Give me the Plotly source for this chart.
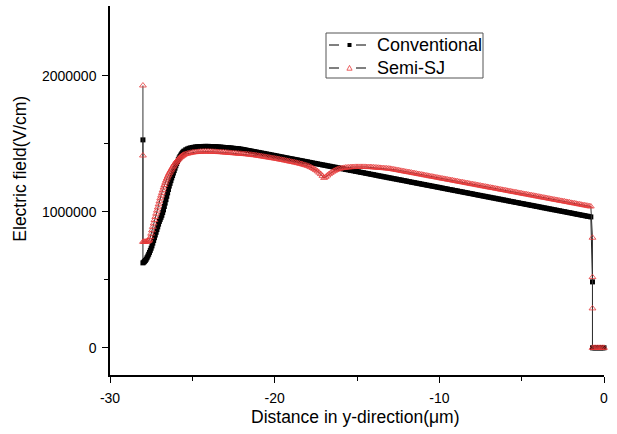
import plotly.graph_objects as go

# Position along y-direction (um): fine grid on the steep rise, then 0.1 um
x_rise = [
    -28.00, -27.95, -27.90, -27.85, -27.80, -27.75, -27.70, -27.65, -27.60, -27.55,
    -27.50, -27.45, -27.40, -27.35, -27.30, -27.25, -27.20, -27.15, -27.10, -27.05,
    -27.00, -26.95, -26.90, -26.85, -26.80, -26.75, -26.70, -26.65, -26.60, -26.55,
    -26.50, -26.45, -26.40, -26.35, -26.30, -26.25, -26.20, -26.15, -26.10, -26.05,
    -26.00, -25.95, -25.90, -25.85, -25.80, -25.75, -25.70, -25.65, -25.60, -25.55,
    -25.50,
]
x_body = [
    -25.4, -25.3, -25.2, -25.1,
    -25.0, -24.9, -24.8, -24.7, -24.6, -24.5, -24.4, -24.3, -24.2, -24.1,
    -24.0, -23.9, -23.8, -23.7, -23.6, -23.5, -23.4, -23.3, -23.2, -23.1,
    -23.0, -22.9, -22.8, -22.7, -22.6, -22.5, -22.4, -22.3, -22.2, -22.1,
    -22.0, -21.9, -21.8, -21.7, -21.6, -21.5, -21.4, -21.3, -21.2, -21.1,
    -21.0, -20.9, -20.8, -20.7, -20.6, -20.5, -20.4, -20.3, -20.2, -20.1,
    -20.0, -19.9, -19.8, -19.7, -19.6, -19.5, -19.4, -19.3, -19.2, -19.1,
    -19.0, -18.9, -18.8, -18.7, -18.6, -18.5, -18.4, -18.3, -18.2, -18.1,
    -18.0, -17.9, -17.8, -17.7, -17.6, -17.5, -17.4, -17.3, -17.2, -17.1,
    -17.0, -16.9, -16.8, -16.7, -16.6, -16.5, -16.4, -16.3, -16.2, -16.1,
    -16.0, -15.9, -15.8, -15.7, -15.6, -15.5, -15.4, -15.3, -15.2, -15.1,
    -15.0, -14.9, -14.8, -14.7, -14.6, -14.5, -14.4, -14.3, -14.2, -14.1,
    -14.0, -13.9, -13.8, -13.7, -13.6, -13.5, -13.4, -13.3, -13.2, -13.1,
    -13.0, -12.9, -12.8, -12.7, -12.6, -12.5, -12.4, -12.3, -12.2, -12.1,
    -12.0, -11.9, -11.8, -11.7, -11.6, -11.5, -11.4, -11.3, -11.2, -11.1,
    -11.0, -10.9, -10.8, -10.7, -10.6, -10.5, -10.4, -10.3, -10.2, -10.1,
    -10.0, -9.9, -9.8, -9.7, -9.6, -9.5, -9.4, -9.3, -9.2, -9.1,
    -9.0, -8.9, -8.8, -8.7, -8.6, -8.5, -8.4, -8.3, -8.2, -8.1,
    -8.0, -7.9, -7.8, -7.7, -7.6, -7.5, -7.4, -7.3, -7.2, -7.1,
    -7.0, -6.9, -6.8, -6.7, -6.6, -6.5, -6.4, -6.3, -6.2, -6.1,
    -6.0, -5.9, -5.8, -5.7, -5.6, -5.5, -5.4, -5.3, -5.2, -5.1,
    -5.0, -4.9, -4.8, -4.7, -4.6, -4.5, -4.4, -4.3, -4.2, -4.1,
    -4.0, -3.9, -3.8, -3.7, -3.6, -3.5, -3.4, -3.3, -3.2, -3.1,
    -3.0, -2.9, -2.8, -2.7, -2.6, -2.5, -2.4, -2.3, -2.2, -2.1,
    -2.0, -1.9, -1.8, -1.7, -1.6, -1.5, -1.4, -1.3, -1.2, -1.1,
    -1.0, -0.9, -0.8,
]

# Electric field (MV/cm), conventional device
conv_rise = [
    0.625, 0.630, 0.636, 0.643, 0.652, 0.663, 0.675, 0.688, 0.702, 0.717,
    0.733, 0.750, 0.770, 0.790, 0.810, 0.830, 0.850, 0.870, 0.890, 0.910,
    0.930, 0.945, 0.960, 0.975, 0.995, 1.015, 1.040, 1.065, 1.090, 1.115,
    1.140, 1.165, 1.190, 1.210, 1.230, 1.250, 1.268, 1.286, 1.304, 1.322,
    1.340, 1.356, 1.371, 1.385, 1.397, 1.408, 1.418, 1.427, 1.435, 1.442,
    1.448,
]
conv_body = [
    1.457, 1.463, 1.468, 1.471,
    1.474, 1.476, 1.478, 1.479, 1.480, 1.481, 1.481, 1.482, 1.482, 1.482,
    1.482, 1.481, 1.481, 1.480, 1.480, 1.479, 1.478, 1.477, 1.476, 1.475,
    1.474, 1.473, 1.472, 1.471, 1.470, 1.468, 1.467, 1.466, 1.465, 1.463,
    1.461, 1.459, 1.457, 1.454, 1.452, 1.450, 1.447, 1.445, 1.443, 1.440,
    1.438, 1.436, 1.433, 1.431, 1.429, 1.426, 1.424, 1.422, 1.419, 1.417,
    1.415, 1.412, 1.410, 1.407, 1.405, 1.403, 1.400, 1.398, 1.396, 1.393,
    1.391, 1.389, 1.386, 1.384, 1.382, 1.379, 1.377, 1.375, 1.372, 1.370,
    1.368, 1.365, 1.363, 1.360, 1.358, 1.356, 1.353, 1.351, 1.349, 1.346,
    1.344, 1.342, 1.339, 1.337, 1.335, 1.332, 1.330, 1.328, 1.325, 1.323,
    1.321, 1.318, 1.316, 1.313, 1.311, 1.309, 1.306, 1.304, 1.302, 1.299,
    1.297, 1.295, 1.292, 1.290, 1.288, 1.285, 1.283, 1.281, 1.278, 1.276,
    1.274, 1.271, 1.269, 1.266, 1.264, 1.262, 1.259, 1.257, 1.255, 1.252,
    1.250, 1.248, 1.245, 1.243, 1.241, 1.238, 1.236, 1.234, 1.231, 1.229,
    1.227, 1.224, 1.222, 1.219, 1.217, 1.215, 1.212, 1.210, 1.208, 1.205,
    1.203, 1.201, 1.198, 1.196, 1.194, 1.191, 1.189, 1.187, 1.184, 1.182,
    1.180, 1.177, 1.175, 1.172, 1.170, 1.168, 1.165, 1.163, 1.161, 1.158,
    1.156, 1.154, 1.151, 1.149, 1.147, 1.144, 1.142, 1.140, 1.137, 1.135,
    1.133, 1.130, 1.128, 1.125, 1.123, 1.121, 1.118, 1.116, 1.114, 1.111,
    1.109, 1.107, 1.104, 1.102, 1.100, 1.097, 1.095, 1.093, 1.090, 1.088,
    1.086, 1.083, 1.081, 1.078, 1.076, 1.074, 1.071, 1.069, 1.067, 1.064,
    1.062, 1.060, 1.057, 1.055, 1.053, 1.050, 1.048, 1.046, 1.043, 1.041,
    1.039, 1.036, 1.034, 1.031, 1.029, 1.027, 1.024, 1.022, 1.020, 1.017,
    1.015, 1.013, 1.010, 1.008, 1.006, 1.003, 1.001, 0.999, 0.996, 0.994,
    0.992, 0.989, 0.987, 0.984, 0.982, 0.980, 0.977, 0.975, 0.973, 0.970,
    0.968, 0.966, 0.963,
]

# Electric field (MV/cm), semi-superjunction device
semi_rise = [
    0.780, 0.780, 0.780, 0.780, 0.781, 0.782, 0.784, 0.788, 0.796, 0.815,
    0.840, 0.865, 0.890, 0.915, 0.940, 0.963, 0.987, 1.010, 1.033, 1.056,
    1.078, 1.100, 1.120, 1.140, 1.160, 1.180, 1.198, 1.215, 1.231, 1.246,
    1.260, 1.273, 1.285, 1.296, 1.307, 1.318, 1.329, 1.339, 1.349, 1.358,
    1.366, 1.374, 1.381, 1.388, 1.394, 1.400, 1.405, 1.410, 1.414, 1.418,
    1.422,
]
semi_body = [
    1.426, 1.429, 1.432, 1.435,
    1.437, 1.439, 1.440, 1.441, 1.442, 1.443, 1.443, 1.444, 1.444, 1.444,
    1.444, 1.443, 1.443, 1.442, 1.442, 1.441, 1.440, 1.440, 1.439, 1.438,
    1.437, 1.436, 1.435, 1.434, 1.433, 1.432, 1.431, 1.430, 1.429, 1.428,
    1.427, 1.426, 1.425, 1.424, 1.423, 1.421, 1.420, 1.418, 1.417, 1.415,
    1.413, 1.411, 1.409, 1.407, 1.405, 1.403, 1.401, 1.399, 1.397, 1.395,
    1.393, 1.391, 1.389, 1.386, 1.384, 1.382, 1.379, 1.377, 1.374, 1.372,
    1.369, 1.367, 1.364, 1.362, 1.359, 1.356, 1.353, 1.350, 1.346, 1.343,
    1.339, 1.334, 1.329, 1.323, 1.316, 1.308, 1.299, 1.289, 1.278, 1.265,
    1.250, 1.258, 1.268, 1.278, 1.287, 1.295, 1.302, 1.308, 1.313, 1.317,
    1.320, 1.322, 1.324, 1.326, 1.327, 1.328, 1.329, 1.330, 1.330, 1.331,
    1.331, 1.331, 1.331, 1.331, 1.331, 1.331, 1.330, 1.330, 1.330, 1.329,
    1.328, 1.327, 1.326, 1.325, 1.324, 1.323, 1.322, 1.321, 1.320, 1.319,
    1.318, 1.316, 1.313, 1.311, 1.309, 1.307, 1.304, 1.302, 1.300, 1.297,
    1.295, 1.293, 1.291, 1.289, 1.286, 1.284, 1.282, 1.279, 1.277, 1.275,
    1.273, 1.270, 1.268, 1.266, 1.263, 1.261, 1.259, 1.257, 1.254, 1.252,
    1.250, 1.247, 1.245, 1.243, 1.241, 1.238, 1.236, 1.234, 1.232, 1.229,
    1.227, 1.225, 1.222, 1.220, 1.218, 1.216, 1.213, 1.211, 1.209, 1.206,
    1.204, 1.202, 1.200, 1.197, 1.195, 1.193, 1.190, 1.188, 1.186, 1.184,
    1.181, 1.179, 1.177, 1.175, 1.172, 1.170, 1.168, 1.165, 1.163, 1.161,
    1.159, 1.156, 1.154, 1.152, 1.149, 1.147, 1.145, 1.143, 1.140, 1.138,
    1.136, 1.133, 1.131, 1.129, 1.127, 1.124, 1.122, 1.120, 1.118, 1.115,
    1.113, 1.111, 1.108, 1.106, 1.104, 1.102, 1.099, 1.097, 1.095, 1.092,
    1.090, 1.088, 1.086, 1.083, 1.081, 1.079, 1.077, 1.074, 1.072, 1.070,
    1.067, 1.065, 1.063, 1.061, 1.058, 1.056, 1.054, 1.051, 1.049, 1.047,
    1.045, 1.042, 1.040,
]

# Edge points (vertical jumps at both ends), MV/cm
conv_left_x = [-28.0]
conv_left_y = [1.53]
semi_left_x = [-28.0, -28.0]
semi_left_y = [1.93, 1.415]
conv_right_x = [-0.7, -0.7]
conv_right_y = [0.485, 0.0]
semi_right_x = [-0.7, -0.7, -0.7, -0.7]
semi_right_y = [0.81, 0.52, 0.29, 0.0]
zero_x = [-0.6, -0.5, -0.4, -0.3, -0.2, -0.1, 0.0]
zero_y = [0.0, 0.0, 0.0, 0.0, 0.0, 0.0, 0.0]

series_names = ["Conventional", "Semi-SJ"]

assert len(x_rise) == len(conv_rise) == len(semi_rise)
assert len(x_body) == len(conv_body) == len(semi_body)

MV = 1e6
x_grid = x_rise + x_body
conv_x = conv_left_x + x_grid + conv_right_x + zero_x
conv_y = [v * MV for v in conv_left_y + conv_rise + conv_body + conv_right_y + zero_y]
semi_x = semi_left_x + x_grid + semi_right_x + zero_x
semi_y = [v * MV for v in semi_left_y + semi_rise + semi_body + semi_right_y + zero_y]

FONT = "Arial, 'Liberation Sans', sans-serif"
RED = "#e63a3a"

# plot area in pixels (for placing the legend box drawn with shapes)
L, R, T, B = 110, 604, 6, 375
def px(xp):
    return (xp - L) / (R - L)
def py(yp):
    return 1 - (yp - T) / (B - T)

fig = go.Figure()
fig.add_trace(go.Scatter(
    x=conv_x, y=conv_y, mode="lines+markers", name=series_names[0],
    line=dict(color="#222222", width=1),
    marker=dict(symbol="square", size=5, color="black", line=dict(width=0)),
    cliponaxis=False, showlegend=False,
))
fig.add_trace(go.Scatter(
    x=semi_x, y=semi_y, mode="lines+markers", name=series_names[1],
    line=dict(color="#333333", width=1),
    marker=dict(symbol="triangle-up-open", size=6, color=RED,
                line=dict(width=0.8, color=RED)),
    cliponaxis=False, showlegend=False,
))

# Legend box (Origin style): "— ▪ —  Conventional", "— △ —  Semi-SJ"
shapes = [
    dict(type="rect", xref="paper", yref="paper",
         x0=px(326), x1=px(483), y0=py(78), y1=py(33),
         line=dict(color="#555555", width=1), fillcolor="white", layer="above"),
]
row_y = [45, 68]
for ry in row_y:
    for (a, b) in [(329, 339), (356, 366)]:
        shapes.append(dict(type="line", xref="paper", yref="paper",
                           x0=px(a), x1=px(b), y0=py(ry), y1=py(ry),
                           line=dict(color="black", width=1), layer="above"))
# square marker
shapes.append(dict(type="rect", xref="paper", yref="paper",
                   x0=px(347.5), x1=px(351.5), y0=py(row_y[0] + 2), y1=py(row_y[0] - 2),
                   line=dict(width=0), fillcolor="black", layer="above"))
# open triangle marker
tx, ty = 349.5, row_y[1]
path = "M {:.5f},{:.5f} L {:.5f},{:.5f} L {:.5f},{:.5f} Z".format(
    px(tx - 2.6), py(ty + 2.2), px(tx + 2.6), py(ty + 2.2), px(tx), py(ty - 2.6))
shapes.append(dict(type="path", xref="paper", yref="paper", path=path,
                   line=dict(color=RED, width=0.8), fillcolor="white", layer="above"))

annotations = [
    dict(text="Electric field(V/cm)", textangle=-90,
         xref="paper", yref="paper", x=-0.181, y=0.558,
         xanchor="center", yanchor="middle", showarrow=False,
         font=dict(family=FONT, size=17.5, color="black")),
    dict(text="Distance in y-direction(μm)",
         xref="paper", yref="paper", x=0.496, y=-0.113,
         xanchor="center", yanchor="middle", showarrow=False,
         font=dict(family=FONT, size=17.5, color="black")),
]
for name, ry in zip(series_names, row_y):
    annotations.append(dict(text=name, xref="paper", yref="paper",
                            x=px(375), y=py(ry), xanchor="left", yanchor="middle",
                            showarrow=False,
                            font=dict(family=FONT, size=18, color="black")))

fig.update_layout(
    width=617, height=434,
    margin=dict(l=L, r=617 - R, t=T, b=434 - B),
    paper_bgcolor="white", plot_bgcolor="white",
    font=dict(family=FONT, color="black", size=14),
    showlegend=False,
    xaxis=dict(
        range=[-30, 0], tickvals=[-30, -20, -10, 0],
        ticktext=["-30", "-20", "-10", "0"],
        ticks="outside", ticklen=6, tickwidth=1.3, tickcolor="black",
        showline=True, linecolor="black", linewidth=1.5,
        showgrid=False, zeroline=False, mirror=False,
        tickfont=dict(family=FONT, size=14, color="black"),
        ticklabelstandoff=3,
        minor=dict(tickvals=[-25, -15, -5], ticks="outside", ticklen=4,
                   tickwidth=1.3, tickcolor="black", showgrid=False),
    ),
    yaxis=dict(
        range=[-200000, 2515000], tickvals=[0, 1000000, 2000000],
        ticktext=["0", "1000000", "2000000"],
        ticks="outside", ticklen=6, tickwidth=1.3, tickcolor="black",
        showline=True, linecolor="black", linewidth=1.5,
        showgrid=False, zeroline=False, mirror=False,
        tickfont=dict(family=FONT, size=14, color="black"),
        ticklabelstandoff=3,
        minor=dict(tickvals=[500000, 1500000], ticks="outside", ticklen=4,
                   tickwidth=1.3, tickcolor="black", showgrid=False),
    ),
    shapes=shapes,
    annotations=annotations,
)

fig.write_html("out.html")
